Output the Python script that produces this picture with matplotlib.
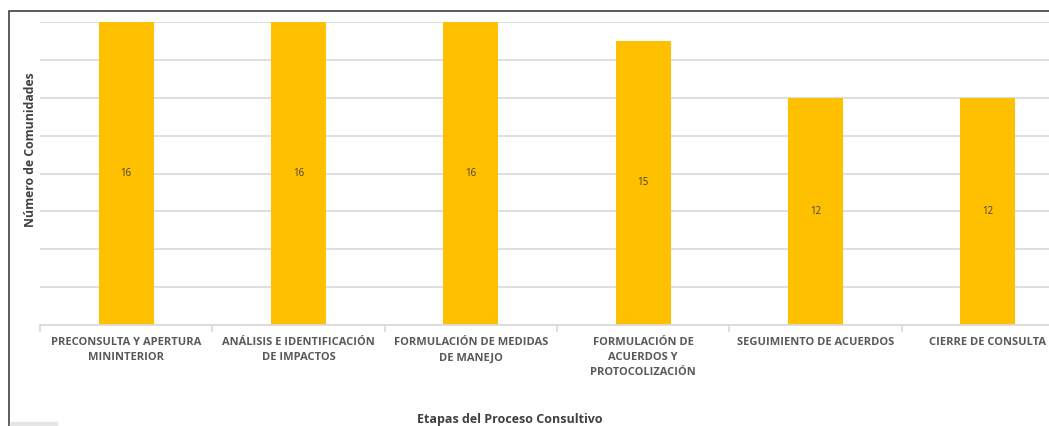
import matplotlib
matplotlib.use("agg")
import matplotlib.pyplot as plt
from matplotlib.patches import Rectangle

etapas = ["PRECONSULTA Y APERTURA\nMININTERIOR",
          "ANÁLISIS E IDENTIFICACIÓN\nDE IMPACTOS",
          "FORMULACIÓN DE MEDIDAS\nDE MANEJO",
          "FORMULACIÓN DE\nACUERDOS Y\nPROTOCOLIZACIÓN",
          "SEGUIMIENTO DE ACUERDOS",
          "CIERRE DE CONSULTA"]
comunidades = [16, 16, 16, 15, 12, 12]

W, H = 1049, 426
fig = plt.figure(figsize=(W / 100, H / 100), dpi=100)
plt.rcParams['font.family'] = ['Open Sans', 'DejaVu Sans']

# outer chart frame (cut off on the right and bottom)
fig.patches.append(Rectangle((8.5 / W, -0.1), 1.2, (H - 11) / H + 0.1,
                             transform=fig.transFigure, fill=False,
                             edgecolor="#404040", linewidth=1.2))
fig.patches.append(Rectangle((10 / W, 0), 47 / W, 4 / H,
                             transform=fig.transFigure, color="#e6e6e6"))

ax = fig.add_axes([40 / W, (H - 325) / H, 1034 / W, 303 / H])
x = range(len(etapas))
ax.bar(x, comunidades, width=0.32, color="#FFC000", zorder=2)
for i, v in zip(x, comunidades):
    ax.text(i, v / 2, str(v), ha="center", va="center", fontsize=7,
            color="#404040")

ax.set_xlim(-0.5, len(etapas) - 0.5)
ax.set_ylim(0, 16)
ax.set_yticks(range(0, 17, 2))
ax.yaxis.grid(True, color="#d9d9d9", linewidth=1.2, zorder=0)
ax.tick_params(axis="y", left=False, labelleft=False)
for s in ["top", "right", "left"]:
    ax.spines[s].set_visible(False)
ax.spines["bottom"].set_color("#d9d9d9")
ax.spines["bottom"].set_linewidth(1.2)

ax.set_xticks([i - 0.5 for i in x], minor=False)
ax.set_xticklabels([])
ax.tick_params(axis="x", length=5, color="#d9d9d9", width=1.2)
for i, lab in zip(x, etapas):
    ax.text(i, -0.65, lab, ha="center", va="top", fontsize=8,
            color="#595959", fontweight="bold", linespacing=1.5,
            clip_on=False)

fig.text(30 / W, 1 - 150 / H, "Número de Comunidades", rotation=90,
         ha="center", va="center", fontsize=8.8, fontweight="bold",
         color="#404040")
fig.text(510 / W, 1 - 420 / H, "Etapas del Proceso Consultivo",
         ha="center", va="center", fontsize=9, fontweight="bold",
         color="#404040")

plt.savefig("out.png", dpi=100)
